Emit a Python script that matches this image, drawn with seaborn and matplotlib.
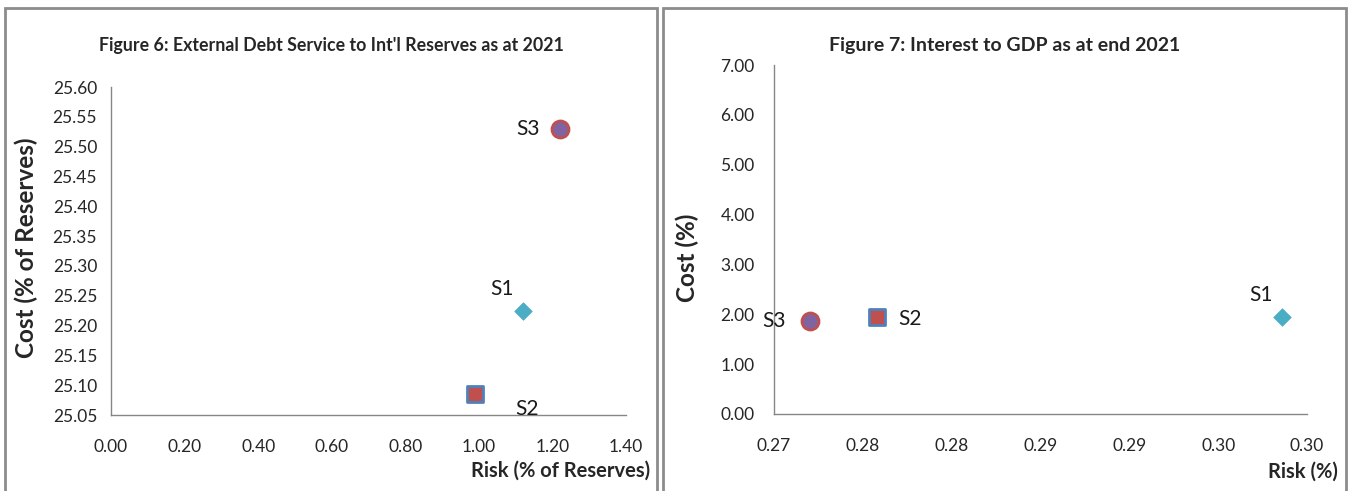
import matplotlib
matplotlib.use("Agg")
import matplotlib.pyplot as plt
import seaborn as sns
from matplotlib.patches import Rectangle

# Scenario results
scenarios = ["S1", "S2", "S3"]

fig6_risk = [1.12, 0.99, 1.22]        # Risk (% of Reserves)
fig6_cost = [25.225, 25.085, 25.53]   # Cost (% of Reserves)

fig7_risk = [0.2986, 0.2758, 0.2720]  # Risk (%)
fig7_cost = [1.95, 1.95, 1.86]        # Cost (%)

fig6_xticks = [0.0, 0.2, 0.4, 0.6, 0.8, 1.0, 1.2, 1.4]
fig6_yticks = [25.05, 25.10, 25.15, 25.20, 25.25, 25.30, 25.35, 25.40,
               25.45, 25.50, 25.55, 25.60]
fig7_xticks = [0.270, 0.275, 0.280, 0.285, 0.290, 0.295, 0.300]
fig7_xticklabels = ["0.27", "0.28", "0.28", "0.29", "0.29", "0.30", "0.30"]
fig7_yticks = [0, 1, 2, 3, 4, 5, 6, 7]

# Marker styling per scenario
marker_style = {
    "S1": dict(marker="D", s=80, color="#4BACC6", edgecolor="#4BACC6", linewidth=0.5),
    "S2": dict(marker="s", s=130, color="#C0504D", edgecolor="#4F81BD", linewidth=2),
    "S3": dict(marker="o", s=150, color="#8064A2", edgecolor="#C0504D", linewidth=2),
}
# Label offsets (pixels) for each chart
fig6_offsets = {"S1": (-21, 22), "S2": (52, -15), "S3": (-32, 0)}
fig7_offsets = {"S1": (-21, 22), "S2": (33, -2), "S3": (-36, 0)}

sns.set_style("white")
plt.rcParams["font.family"] = ["Lato", "DejaVu Sans"]

W, H = 1348, 491
fig = plt.figure(figsize=(W / 100, H / 100), dpi=100)

# Panel frames
for x0, x1 in [(5, 657), (663, 1346)]:
    fig.patches.append(Rectangle((x0 / W, -0.05), (x1 - x0) / W, 1.05 - 8 / H,
                                 transform=fig.transFigure, fill=False,
                                 edgecolor="#8C8C8C", linewidth=2))

ax1 = fig.add_axes([111 / W, 1 - 415 / H, (626 - 111) / W, (415 - 87) / H])
ax2 = fig.add_axes([774 / W, 1 - 414 / H, (1307 - 774) / W, (414 - 65) / H])

tick_color = "#262626"


def draw(ax, risk, cost, offsets):
    for name, xv, yv in zip(scenarios, risk, cost):
        sns.scatterplot(x=[xv], y=[yv], ax=ax, zorder=3, legend=False,
                        **marker_style[name])
        ax.annotate(name, (xv, yv), xytext=offsets[name],
                    textcoords="offset pixels", ha="center", va="center",
                    fontsize=15, color="#1a1a1a")
    for side in ["top", "right"]:
        ax.spines[side].set_visible(False)
    for side in ["left", "bottom"]:
        ax.spines[side].set_color("#868686")
        ax.spines[side].set_linewidth(1.0)
    ax.tick_params(axis="both", length=0, labelsize=12.5, labelcolor=tick_color)
    ax.grid(False)


draw(ax1, fig6_risk, fig6_cost, fig6_offsets)
ax1.set_xlim(0, 1.4)
ax1.set_ylim(25.05, 25.60)
ax1.set_xticks(fig6_xticks)
ax1.set_xticklabels([f"{v:.2f}" for v in fig6_xticks])
ax1.set_yticks(fig6_yticks)
ax1.set_yticklabels([f"{v:.2f}" for v in fig6_yticks])
ax1.tick_params(axis="x", pad=17)
ax1.tick_params(axis="y", pad=10)
ax1.set_xlabel("Risk (% of Reserves)", fontsize=14.5, fontweight="bold", ha="right")
ax1.xaxis.set_label_coords(1.0466, -0.171)
ax1.xaxis.label.set_va("center")
ax1.set_ylabel("Cost (% of Reserves)", fontsize=17.5, fontweight="bold")
ax1.yaxis.set_label_coords(-0.165, 0.509)
ax1.yaxis.label.set_va("center")

draw(ax2, fig7_risk, fig7_cost, fig7_offsets)
ax2.set_xlim(0.27, 0.30)
ax2.set_ylim(0, 7)
ax2.set_xticks(fig7_xticks)
ax2.set_xticklabels(fig7_xticklabels)
ax2.set_yticks(fig7_yticks)
ax2.set_yticklabels([f"{v:.2f}" for v in fig7_yticks])
ax2.tick_params(axis="x", pad=17)
ax2.tick_params(axis="y", pad=14)
ax2.set_xlabel("Risk (%)", fontsize=14.5, fontweight="bold", ha="right")
ax2.xaxis.set_label_coords((1338 - 774) / 533, -(472 - 414) / 349)
ax2.xaxis.label.set_va("center")
ax2.set_ylabel("Cost (%)", fontsize=17.5, fontweight="bold")
ax2.yaxis.set_label_coords(-0.163, 0.447)
ax2.yaxis.label.set_va("center")

fig.text(331 / W, 1 - 45 / H,
         "Figure 6: External Debt Service to Int'l Reserves as at 2021",
         ha="center", va="center", fontsize=12.8, fontweight="bold")
fig.text(1005 / W, 1 - 46 / H, "Figure 7: Interest to GDP as at end 2021",
         ha="center", va="center", fontsize=14, fontweight="bold")

fig.savefig("out.png", dpi=100)
